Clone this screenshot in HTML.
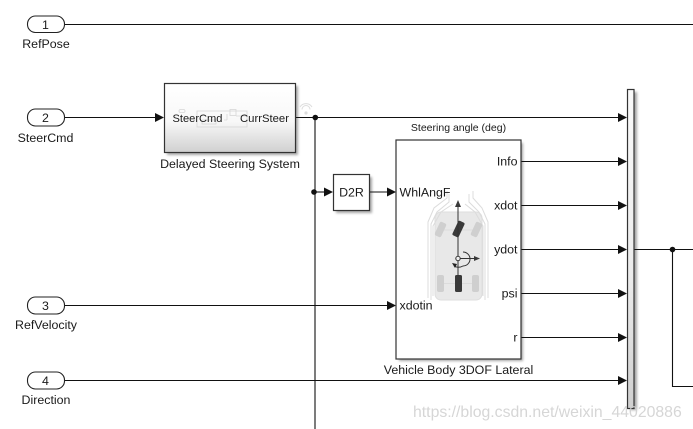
<!DOCTYPE html>
<html><head><meta charset="utf-8"><style>
html,body{margin:0;padding:0;background:#fff;width:693px;height:429px;overflow:hidden}
svg{display:block}
text{font-family:"Liberation Sans",sans-serif;font-size:12.4px;fill:#1a1a1a}
</style></head><body>
<svg width="693" height="429" viewBox="0 0 693 429">
<defs>
<linearGradient id="g" x1="0" y1="0" x2="0" y2="1"><stop offset="0" stop-color="#fff"/><stop offset=".55" stop-color="#f8f8f8"/><stop offset="1" stop-color="#d0d0d0"/></linearGradient>
<linearGradient id="b" x1="0" y1="0" x2="0" y2="1"><stop offset="0" stop-color="#fafafa"/><stop offset=".6" stop-color="#ebebeb"/><stop offset="1" stop-color="#cfcfcf"/></linearGradient>
<filter id="s" x="-10%" y="-10%" width="125%" height="125%"><feGaussianBlur stdDeviation="1.2"/></filter>
</defs>

<!-- shadows -->
<g fill="#888" filter="url(#s)" opacity=".75">
<rect x="167" y="86" width="131" height="69"/>
<rect x="336" y="177" width="36" height="36"/>
<rect x="399" y="143" width="124" height="218"/>
<rect x="630" y="92" width="7" height="318"/>
</g>

<!-- wires -->
<g stroke="#111" stroke-width="1.100" fill="none">
<path d="M64 24.500H693"/>
<path d="M64 117.500H157"/>
<path d="M296 117.500H620"/>
<path d="M315 117.500V429"/>
<path d="M314 192H326"/>
<path d="M370 192H388"/>
<path d="M64 305.500H388"/>
<path d="M64 380.500H620"/>
<path d="M521 161.500H620M521 205.500H620M521 249.500H620M521 293.500H620M521 337.500H620"/>
<path d="M634 249.500H693"/>
<path d="M672.500 249.500V386.500H693"/>
</g>
<g fill="#111">
<path d="M155 113l9 4.500-9 4.500z"/>
<path d="M324 187.500l9 4.500-9 4.500z"/>
<path d="M387 187.500l9 4.500-9 4.500z"/>
<path d="M387 301l9 4.500-9 4.500z"/>
<path d="M618 113l9 4.500-9 4.500z"/>
<path d="M618 157l9 4.500-9 4.500z"/>
<path d="M618 201l9 4.500-9 4.500z"/>
<path d="M618 245l9 4.500-9 4.500z"/>
<path d="M618 289l9 4.500-9 4.500z"/>
<path d="M618 333l9 4.500-9 4.500z"/>
<path d="M618 376l9 4.500-9 4.500z"/>
<circle cx="315.300" cy="117.500" r="2.800"/>
<circle cx="314" cy="192" r="2.800"/>
<circle cx="672.500" cy="249.500" r="2.800"/>
</g>

<!-- inports -->
<g fill="#fff" stroke="#222" stroke-width="1.100">
<rect x="27.500" y="16" width="37" height="16.500" rx="8"/>
<rect x="27.500" y="109" width="37" height="17" rx="8"/>
<rect x="27.500" y="297" width="37" height="17" rx="8"/>
<rect x="27.500" y="372" width="37" height="17" rx="8"/>
</g>
<g text-anchor="middle">
<text x="45.500" y="29">1</text>
<text x="45.500" y="122">2</text>
<text x="45.500" y="310">3</text>
<text x="45.500" y="385">4</text>
<text x="46" y="48">RefPose</text>
<text x="45.500" y="142">SteerCmd</text>
<text x="46" y="329">RefVelocity</text>
<text x="46" y="404">Direction</text>
</g>

<!-- delayed steering -->
<rect x="164.500" y="83.500" width="131" height="69" fill="url(#g)" stroke="#333" stroke-width="1.200"/>
<g fill="none" stroke="#d6d6d6" stroke-width=".8">
<rect x="179" y="109.500" width="6" height="3" rx="1.500"/>
<rect x="197" y="111" width="50" height="16"/>
<rect x="202" y="120" width="14" height="4"/>
<rect x="230" y="109.500" width="6" height="6"/>
<path d="M227 114v6M227 120h-3M236 116h12"/>
</g>
<text x="172.500" y="122" style="font-size:11.100px">SteerCmd</text>
<text x="240" y="122" style="font-size:11.300px">CurrSteer</text>
<text x="230" y="168" text-anchor="middle">Delayed Steering System</text>
<g fill="none" stroke="#ddd" stroke-width="1">
<path d="M300 107a7 7 0 0 1 12 0M302 109.500a4 4 0 0 1 8 0"/>
</g>
<circle cx="306" cy="113" r="1.600" fill="#ddd"/>

<!-- D2R -->
<rect x="333.500" y="174.500" width="36" height="36" fill="#fff" stroke="#333" stroke-width="1.200"/>
<text x="351.500" y="196.500" text-anchor="middle">D2R</text>

<!-- vehicle -->
<text x="458.500" y="131" text-anchor="middle" style="font-size:10.500px">Steering angle (deg)</text>
<rect x="396" y="140" width="125" height="219" fill="#fff" stroke="#333" stroke-width="1.200"/>
<!-- vehicle icon -->
<rect x="435" y="212" width="47" height="88" rx="6" fill="#e8e8e8" stroke="#dedede"/>
<g fill="none" stroke="#dcdcdc" stroke-width="1">
<path d="M428 298V222l6-14 13-10v-7"/>
<path d="M431 300V224l6-12 12-10v-8"/>
<path d="M433 296V226l8-14 12-8"/>
<path d="M488 298V222l-6-14-9-10v-7"/>
<path d="M485 300V224l-6-12-10-10v-8"/>
<path d="M483 296V226l-8-14-10-8"/>
<path d="M444 283.500h28"/>
<path d="M444 230h32"/>
</g>
<g fill="#cfcfcf">
<rect x="437" y="222" width="7" height="15" rx="2" transform="rotate(25 440.500 229.500)"/>
<rect x="473" y="222" width="7" height="15" rx="2" transform="rotate(25 476.500 229.500)"/>
<rect x="437" y="275" width="7" height="17" rx="2"/>
<rect x="472" y="275" width="7" height="17" rx="2"/>
</g>
<g fill="#3a3a3a">
<rect x="455" y="221" width="7" height="16" rx="1.500" transform="rotate(25 458.500 229)"/>
<rect x="455" y="275" width="7" height="17" rx="1.500"/>
<path d="M458 200l-3 7h6z"/>
<path d="M480 258.500l-6-2.500v5z"/>
</g>
<g fill="none" stroke="#333" stroke-width="1">
<path d="M458 205V276"/>
<path d="M458 258.500H476"/>
<path d="M463 252a7 7 0 0 1 0 14 9 9 0 0 1-9 0"/>
<circle cx="458" cy="258.500" r="2.200" fill="#eee"/>
</g>
<path d="M452 263l5 1-2 4z" fill="#222"/>
<text x="399.500" y="196.500">WhlAngF</text>
<text x="399.500" y="309.500">xdotin</text>
<g text-anchor="end">
<text x="517.500" y="165.500">Info</text>
<text x="517.500" y="209.500">xdot</text>
<text x="517.500" y="253.500">ydot</text>
<text x="517.500" y="297.500">psi</text>
<text x="517.500" y="341.500">r</text>
</g>
<text x="458.500" y="374" text-anchor="middle">Vehicle Body 3DOF Lateral</text>

<!-- bus -->
<rect x="627.500" y="89.500" width="6.500" height="319" fill="url(#b)" stroke="#333" stroke-width="1.200"/>

<!-- watermark -->
<text x="413" y="417" style="font-size:15.800px;fill:#cfcfcf" opacity=".85">https://blog.csdn.net/weixin_44020886</text>
</svg>
</body></html>
